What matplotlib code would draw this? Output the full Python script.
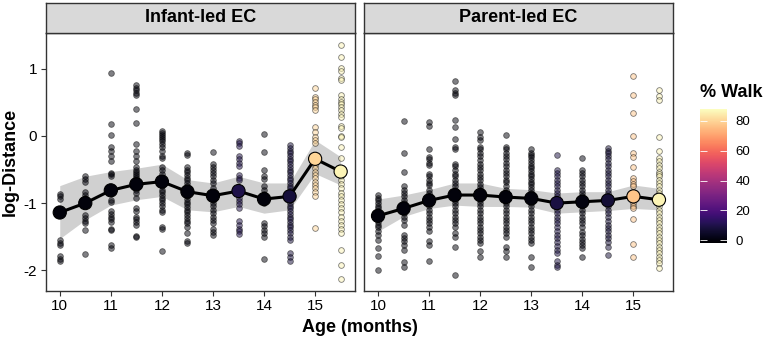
import numpy as np
import matplotlib
matplotlib.use("Agg")
import matplotlib.pyplot as plt
from matplotlib.colors import Normalize
from matplotlib.cm import ScalarMappable

plt.rcParams['font.family'] = ['Liberation Sans', 'DejaVu Sans']
plt.rcParams['axes.unicode_minus'] = False

ages = [10, 10.5, 11, 11.5, 12, 12.5, 13, 13.5, 14, 14.5, 15, 15.5]

# mean log-distance per age and its ribbon
infant_mean = [-1.14, -1.0, -0.81, -0.72, -0.68, -0.83, -0.89, -0.82, -0.94, -0.9, -0.34, -0.53]
infant_hi = [-0.74, -0.6, -0.53, -0.48, -0.42, -0.65, -0.7, -0.6, -0.7, -0.7, -0.06, -0.31]
infant_lo = [-1.53, -1.25, -1.03, -0.95, -0.9, -1.1, -1.13, -1.05, -1.15, -1.1, -0.56, -0.73]
parent_mean = [-1.19, -1.08, -0.96, -0.88, -0.88, -0.91, -0.93, -1.0, -0.98, -0.96, -0.9, -0.95]
parent_hi = [-0.94, -0.88, -0.8, -0.7, -0.7, -0.78, -0.8, -0.85, -0.83, -0.83, -0.73, -0.78]
parent_lo = [-1.42, -1.2, -1.08, -1.03, -1.05, -1.05, -1.06, -1.15, -1.13, -1.11, -1.08, -1.1]

# % walk per age (colour)
infant_walk = [0, 0, 0, 0, 0, 0, 0, 10, 0, 8, 80, 86]
parent_walk = [0, 0, 0, 0, 0, 0, 0, 9, 1, 7, 77, 86]

# individual sessions
infant_pts = [
    [-0.86, -0.9, -0.94, -1.12, -1.15, -1.55, -1.59, -1.63, -1.79, -1.83, -1.87],
    [-0.6, -0.64, -0.68, -0.84, -0.88, -0.92, -1.0, -1.18, -1.22, -1.26, -1.3, -1.4, -1.76],
    [0.94, 0.18, 0.02, -0.16, -0.22, -0.3, -0.38, -0.55, -0.57, -0.59, -0.82, -0.85, -0.95, -0.99,
     -1.12, -1.16, -1.2, -1.24, -1.28, -1.39, -1.4, -1.62, -1.67],
    [0.76, 0.72, 0.68, 0.64, 0.61, 0.4, 0.2, -0.12, -0.22, -0.3, -0.38, -0.46, -0.5, -0.53, -0.56,
     -0.6, -0.62, -0.66, -0.72, -0.8, -0.85, -0.93, -1.08, -1.12, -1.2, -1.24, -1.28, -1.33, -1.49, -1.51],
    [0.07, 0.04, 0.01, -0.02, -0.05, -0.08, -0.12, -0.16, -0.22, -0.3, -0.33, -0.46, -0.5, -0.56, -0.62,
     -0.7, -0.75, -0.8, -0.84, -0.88, -0.92, -0.96, -1.0, -1.05, -1.1, -1.13, -1.35, -1.38, -1.72],
    [-0.25, -0.28, -0.46, -0.5, -0.54, -0.58, -0.62, -0.66, -0.7, -0.75, -0.83, -0.9, -0.94, -0.98,
     -1.02, -1.06, -1.1, -1.14, -1.18, -1.22, -1.26, -1.3, -1.35, -1.45, -1.56, -1.6],
    [-0.24, -0.42, -0.46, -0.5, -0.55, -0.6, -0.65, -0.7, -0.78, -0.89, -0.95, -1.0, -1.05, -1.1,
     -1.15, -1.2, -1.25, -1.3, -1.38, -1.43, -1.47],
    [-0.07, -0.11, -0.15, -0.3, -0.35, -0.4, -0.45, -0.58, -0.62, -0.66, -0.83, -0.92, -0.97, -1.02,
     -1.08, -1.27, -1.32, -1.38, -1.42, -1.46],
    [0.03, -0.24, -0.5, -0.6, -0.64, -0.75, -0.8, -0.86, -0.94, -1.0, -1.3, -1.34, -1.4, -1.45, -1.5, -1.83],
    [-0.14, -0.18, -0.22, -0.26, -0.3, -0.34, -0.38, -0.42, -0.46, -0.5, -0.54, -0.58, -0.62, -0.66,
     -0.7, -0.74, -0.78, -0.82, -0.86, -0.95, -1.0, -1.04, -1.08, -1.12, -1.16, -1.2, -1.24, -1.28,
     -1.32, -1.36, -1.4, -1.45, -1.5, -1.55, -1.75, -1.8, -1.87],
    [0.71, 0.58, 0.55, 0.51, 0.46, 0.43, 0.39, 0.13, 0.06, -0.01, -0.06, -0.11, -0.3, -0.34, -0.43,
     -0.48, -0.53, -0.58, -0.63, -0.68, -0.73, -0.78, -0.84, -0.9, -1.37],
    [1.35, 1.17, 1.01, 0.97, 0.87, 0.83, 0.61, 0.55, 0.5, 0.47, 0.43, 0.39, 0.33, 0.28, 0.15, 0.12,
     0.0, -0.02, -0.16, -0.33, -0.53, -0.6, -0.66, -0.72, -0.78, -0.85, -0.9, -0.96, -1.02, -1.08,
     -1.14, -1.2, -1.26, -1.32, -1.38, -1.44, -1.7, -1.92, -2.13],
]

parent_pts = [
    [-0.88, -0.92, -0.96, -1.0, -1.04, -1.08, -1.12, -1.2, -1.24, -1.28, -1.32, -1.36, -1.42, -1.47,
     -1.55, -1.67, -1.79, -1.99],
    [0.22, -0.25, -0.53, -0.75, -0.8, -0.85, -0.9, -0.95, -1.0, -1.15, -1.2, -1.25, -1.32, -1.47,
     -1.52, -1.57, -1.62, -1.7, -1.88, -1.95],
    [0.21, 0.15, -0.2, -0.31, -0.35, -0.4, -0.43, -0.56, -0.6, -0.65, -0.7, -0.73, -0.8, -0.85, -0.9,
     -1.05, -1.1, -1.15, -1.2, -1.25, -1.3, -1.36, -1.42, -1.57, -1.62, -1.87],
    [0.82, 0.68, 0.64, 0.61, 0.24, 0.13, -0.05, -0.16, -0.19, -0.41, -0.45, -0.5, -0.56, -0.6, -0.65,
     -0.7, -0.75, -0.8, -0.9, -0.95, -1.0, -1.05, -1.1, -1.15, -1.2, -1.25, -1.3, -1.35, -1.45, -1.5,
     -1.65, -2.07],
    [0.06, -0.02, -0.06, -0.16, -0.2, -0.25, -0.3, -0.36, -0.41, -0.46, -0.51, -0.56, -0.61, -0.66,
     -0.71, -0.76, -0.8, -0.9, -0.95, -1.0, -1.05, -1.1, -1.15, -1.2, -1.25, -1.3, -1.35, -1.4, -1.45,
     -1.5, -1.55, -1.6, -1.72, -1.8],
    [0.02, -0.16, -0.2, -0.25, -0.3, -0.35, -0.4, -0.45, -0.5, -0.55, -0.6, -0.65, -0.68, -0.75, -0.8,
     -0.95, -1.0, -1.05, -1.1, -1.15, -1.2, -1.25, -1.3, -1.35, -1.4, -1.45, -1.5, -1.65, -1.72, -1.8],
    [-0.2, -0.25, -0.28, -0.32, -0.36, -0.4, -0.44, -0.48, -0.52, -0.56, -0.6, -0.64, -0.68, -0.72,
     -0.76, -0.8, -0.85, -0.9, -1.0, -1.05, -1.1, -1.15, -1.2, -1.25, -1.3, -1.35, -1.4, -1.45, -1.5,
     -1.55, -1.6, -1.8, -1.95],
    [-0.28, -0.5, -0.55, -0.6, -0.65, -0.7, -0.75, -0.8, -0.85, -0.9, -0.95, -1.0, -1.05, -1.1, -1.15,
     -1.2, -1.25, -1.3, -1.35, -1.42, -1.47, -1.52, -1.58, -1.64, -1.7, -1.75, -1.87, -1.92, -1.95],
    [-0.33, -0.5, -0.55, -0.6, -0.65, -0.7, -0.75, -0.8, -0.85, -0.9, -0.95, -1.05, -1.1, -1.15, -1.2,
     -1.25, -1.3, -1.35, -1.43, -1.48, -1.53, -1.58, -1.63, -1.67, -1.8],
    [-0.18, -0.22, -0.26, -0.3, -0.35, -0.4, -0.45, -0.5, -0.55, -0.6, -0.65, -0.7, -0.75, -0.8, -0.85,
     -0.9, -1.0, -1.05, -1.1, -1.15, -1.2, -1.27, -1.32, -1.37, -1.42, -1.47, -1.52, -1.58, -1.65, -1.77],
    [0.89, 0.61, 0.35, 0.0, -0.26, -0.31, -0.46, -0.63, -0.67, -0.71, -0.75, -0.84, -0.9, -0.95, -1.0,
     -1.05, -1.08, -1.24, -1.61, -1.81],
    [0.68, 0.6, 0.53, -0.01, -0.23, -0.33, -0.38, -0.43, -0.48, -0.53, -0.56, -0.6, -0.65, -0.7, -0.75,
     -0.8, -0.85, -0.9, -1.0, -1.05, -1.1, -1.15, -1.2, -1.25, -1.3, -1.35, -1.4, -1.45, -1.5, -1.55,
     -1.6, -1.65, -1.7, -1.75, -1.8, -1.85, -1.9, -1.97],
]

panels = [
    ('Infant-led EC', infant_pts, infant_mean, infant_lo, infant_hi, infant_walk),
    ('Parent-led EC', parent_pts, parent_mean, parent_lo, parent_hi, parent_walk),
]

cmap = plt.get_cmap('magma')
norm = Normalize(-1.8, 88)

fig = plt.figure(figsize=(7.65, 3.38), dpi=100)
lefts = [45.7 / 765, 364 / 765]
W = 309 / 765
B = 1 - 291 / 338
H = 258 / 338

for k, (title, pts, mean, lo, hi, walk) in enumerate(panels):
    ax = fig.add_axes([lefts[k], B, W, H])
    ax.fill_between(ages, lo, hi, color='#D0D0D0', lw=0, zorder=1)
    for age, ys, w in zip(ages, pts, walk):
        ax.scatter([age] * len(ys), ys, s=17, color=cmap(norm(w)), alpha=0.5,
                   edgecolors='black', linewidths=0.6, zorder=2)
    ax.plot(ages, mean, color='black', lw=2.2, zorder=3)
    ax.scatter(ages, mean, s=90, color=cmap(norm(np.array(walk))),
               edgecolors='black', linewidths=0.8, zorder=4)
    ax.set_xlim(9.725, 15.775)
    ax.set_ylim(-2.31, 1.535)
    ax.set_xticks([10, 11, 12, 13, 14, 15])
    ax.set_yticks([-2, -1, 0, 1])
    ax.tick_params(length=3.5, width=0.8, color='#333333', labelsize=11, labelcolor='black', pad=2.5)
    if k == 1:
        ax.tick_params(left=False, labelleft=False)
    for sp in ax.spines.values():
        sp.set_color('#333333')
        sp.set_linewidth(1.0)

    # facet strip
    st = fig.add_axes([lefts[k], 1 - 33 / 338, W, 30 / 338])
    st.set_facecolor('#D9D9D9')
    st.set_xticks([])
    st.set_yticks([])
    for sp in st.spines.values():
        sp.set_color('#333333')
        sp.set_linewidth(1.0)
    st.text(0.5, 0.5, title, ha='center', va='center', fontsize=13, fontweight='bold',
            transform=st.transAxes)

fig.text(0.013, 1 - 162 / 338, 'log-Distance', rotation=90, ha='center', va='center',
         fontsize=13, fontweight='bold')
fig.text(360 / 765, 1 - 327 / 338, 'Age (months)', ha='center', va='center',
         fontsize=13, fontweight='bold')

cax = fig.add_axes([700 / 765, 1 - 243 / 338, 27 / 765, 134 / 338])
cb = fig.colorbar(ScalarMappable(norm=norm, cmap=cmap), cax=cax, ticks=[0, 20, 40, 60, 80])
cb.outline.set_visible(False)
cax.tick_params(direction='in', color='white', length=5, width=0.6, labelsize=9.5,
                left=True, right=True, pad=6)
fig.text(700 / 765, 1 - 92 / 338, '% Walk', ha='left', va='center', fontsize=13, fontweight='bold')

fig.savefig('out.png', dpi=100)
